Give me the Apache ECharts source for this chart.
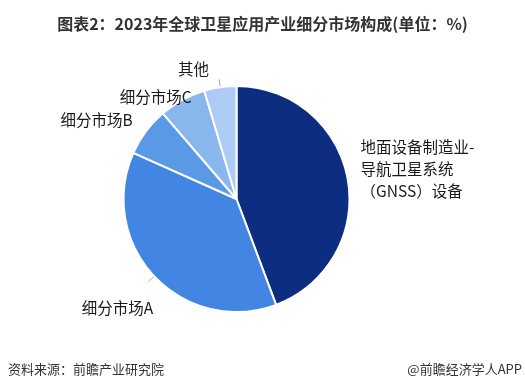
<!DOCTYPE html>
<html>
<head>
<meta charset="utf-8">
<script src="https://cdn.jsdelivr.net/npm/echarts@6/dist/echarts.min.js"></script>
<style>
  html, body { margin: 0; padding: 0; background: #fff; }
  #main { width: 525px; height: 391px; }
</style>
</head>
<body>
<div id="main"></div>
<script>
// 细分市场名称和占比(%)
var names = ['地面设备制造业-\n导航卫星系统\n（GNSS）设备', '细分市场A', '细分市场B', '细分市场C', '其他'];
var shares = [44.3, 37.4, 7.0, 6.7, 4.6];
var colors = ['#0c2d80', '#4285e2', '#5a99e6', '#8ab6ee', '#acccf6'];
// 标签微调(相对默认位置)和是否画引导线
var labelShift = [[0, -8], [10, 26], [-6, -7], [30, -6], [-5, -10]];
var showLine = [false, true, false, false, true];

var font = '"Noto Sans CJK SC", "Microsoft YaHei", sans-serif';
var myChart = echarts.init(document.getElementById('main'));

var data = names.map(function (n, i) {
    return {
        name: n,
        value: shares[i],
        itemStyle: { color: colors[i] },
        labelLine: { show: showLine[i] }
    };
});

var option = {
    animation: false,
    title: {
        text: '图表2：2023年全球卫星应用产业细分市场构成(单位：%)',
        left: 'center',
        top: 11,
        textStyle: { fontSize: 16, fontWeight: 'bold', color: '#333', fontFamily: font }
    },
    graphic: [
        { type: 'text', left: 8, top: 363, style: { text: '资料来源：前瞻产业研究院', fontSize: 13, fill: '#333', fontFamily: font } },
        { type: 'text', right: 3, top: 363, style: { text: '@前瞻经济学人APP', fontSize: 13, fill: '#333', fontFamily: font } }
    ],
    series: [{
        type: 'pie',
        center: [236.5, 199],
        radius: [0, 113],
        startAngle: 90,
        clockwise: true,
        itemStyle: { borderColor: '#fff', borderWidth: 2 },
        label: {
            show: true,
            position: 'outside',
            fontSize: 15.5,
            color: '#1a1a1a',
            fontFamily: font,
            lineHeight: 22,
            align: 'center'
        },
        labelLine: {
            show: true,
            length: 8,
            length2: 0,
            lineStyle: { color: '#aaa', width: 1 }
        },
        labelLayout: function (p) {
            var s = labelShift[p.dataIndex];
            return { dx: s[0], dy: s[1] };
        },
        data: data
    }]
};

myChart.setOption(option);
</script>
</body>
</html>
